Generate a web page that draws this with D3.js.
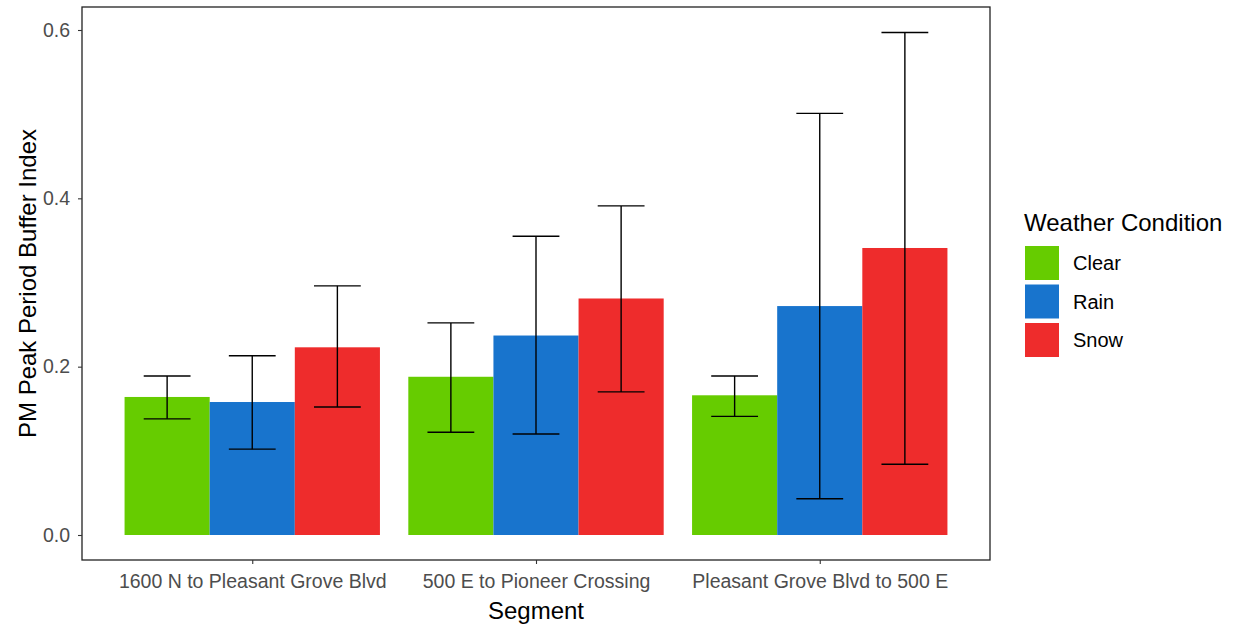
<!DOCTYPE html>
<html>
<head>
<meta charset="utf-8">
<script src="https://cdn.jsdelivr.net/npm/d3@7"></script>
<style>
  body { margin: 0; background: #fff; }
  svg { font-family: "Liberation Sans", Arial, sans-serif; }
</style>
</head>
<body>
<script>
// segments along x, weather groups inside each
var segments = ["1600 N to Pleasant Grove Blvd", "500 E to Pioneer Crossing", "Pleasant Grove Blvd to 500 E"];
var conditions = ["Clear", "Rain", "Snow"];
var colors = ["#66CC00", "#1874CD", "#EE2C2C"];

// mean buffer index per segment, in condition order
var means = [
    [0.164, 0.158, 0.223],
    [0.188, 0.237, 0.281],
    [0.166, 0.272, 0.341]
];
var lower = [
    [0.138, 0.102, 0.152],
    [0.122, 0.120, 0.170],
    [0.141, 0.043, 0.084]
];
var upper = [
    [0.189, 0.213, 0.296],
    [0.252, 0.355, 0.391],
    [0.189, 0.501, 0.597]
];
var yTicks = [0.0, 0.2, 0.4, 0.6];

var w = 1238, h = 630;
// panel edges (note: "top" is reserved on window, so use pTop etc.)
var pLeft = 82, pRight = 990, pTop = 7, pBottom = 560;

var svg = d3.select("body").append("svg")
    .attr("width", w)
    .attr("height", h);

// flatten into rows for the bars
var rows = [];
segments.forEach(function(s, i){
    conditions.forEach(function(c, j){
        rows.push({seg: s, cond: c, mean: means[i][j], lo: lower[i][j], hi: upper[i][j]});
    });
});

// discrete x scale with ggplot-like 0.6 expansion
var step = (pRight - pLeft) / 3.2;
var x = d3.scalePoint()
    .domain(segments)
    .range([pLeft + 0.6 * step, pRight - 0.6 * step]);
var dodge = d3.scaleBand()
    .domain(conditions)
    .range([-0.45 * step, 0.45 * step]);

var y = d3.scaleLinear()
    .domain([0, 0.6])
    .range([535, 30]);

var color = d3.scaleOrdinal().domain(conditions).range(colors);

// bars
svg.selectAll(".bar")
    .data(rows)
    .enter()
    .append("rect")
    .attr("class", "bar")
    .attr("x", function(d){ return x(d.seg) + dodge(d.cond); })
    .attr("width", dodge.bandwidth())
    .attr("y", function(d){ return y(d.mean); })
    .attr("height", function(d){ return y(0) - y(d.mean); })
    .style("fill", function(d){ return color(d.cond); });

// error bars
var bw = dodge.bandwidth();
var err = svg.selectAll(".err")
    .data(rows)
    .enter()
    .append("g")
    .attr("class", "err")
    .attr("transform", function(d){ return "translate(" + (x(d.seg) + dodge(d.cond) + bw / 2) + ",0)"; })
    .style("stroke", "#000")
    .style("stroke-width", 1.4);

err.append("line")
    .attr("y1", function(d){ return y(d.lo); })
    .attr("y2", function(d){ return y(d.hi); });
err.append("line")
    .attr("x1", -bw * 0.275).attr("x2", bw * 0.275)
    .attr("y1", function(d){ return y(d.hi); })
    .attr("y2", function(d){ return y(d.hi); });
err.append("line")
    .attr("x1", -bw * 0.275).attr("x2", bw * 0.275)
    .attr("y1", function(d){ return y(d.lo); })
    .attr("y2", function(d){ return y(d.lo); });

// panel border
svg.append("rect")
    .attr("x", pLeft).attr("y", pTop)
    .attr("width", pRight - pLeft).attr("height", pBottom - pTop)
    .style("fill", "none")
    .style("stroke", "#222")
    .style("stroke-width", 1.3);

// y axis
var yAxis = svg.append("g")
    .attr("transform", "translate(" + pLeft + ",0)")
    .call(d3.axisLeft(y).tickValues(yTicks).tickFormat(d3.format(".1f")).tickSize(4).tickPadding(8));
yAxis.attr("font-size", null).attr("font-family", null);
yAxis.select(".domain").remove();
yAxis.selectAll("line").style("stroke", "#333").style("stroke-width", 1.1);
yAxis.selectAll("text").style("font-size", "19.5px").style("fill", "#4D4D4D");

// x axis
var xAxis = svg.append("g")
    .attr("transform", "translate(0," + pBottom + ")")
    .call(d3.axisBottom(x).tickSize(4).tickPadding(10));
xAxis.attr("font-size", null).attr("font-family", null);
xAxis.select(".domain").remove();
xAxis.selectAll("line").style("stroke", "#333").style("stroke-width", 1.1);
xAxis.selectAll("text").style("font-size", "19.5px").style("fill", "#4D4D4D");

// axis titles
svg.append("text")
    .attr("x", (pLeft + pRight) / 2)
    .attr("y", 619)
    .attr("text-anchor", "middle")
    .style("font-size", "24px")
    .text("Segment");

svg.append("text")
    .attr("transform", "translate(36," + ((pTop + pBottom) / 2) + ") rotate(-90)")
    .attr("text-anchor", "middle")
    .style("font-size", "24px")
    .text("PM Peak Period Buffer Index");

// legend
var legend = svg.append("g").attr("transform", "translate(1025,0)");
legend.append("text")
    .attr("x", -1).attr("y", 231)
    .style("font-size", "24px")
    .text("Weather Condition");

var keys = legend.selectAll(".key")
    .data(conditions)
    .enter()
    .append("g")
    .attr("class", "key")
    .attr("transform", function(d, i){ return "translate(0," + (246 + i * 38.5) + ")"; });
keys.append("rect")
    .attr("width", 34).attr("height", 34)
    .style("fill", function(d){ return color(d); });
keys.append("text")
    .attr("x", 48).attr("y", 17)
    .attr("dy", "0.35em")
    .style("font-size", "20px")
    .text(function(d){ return d; });
</script>
</body>
</html>
